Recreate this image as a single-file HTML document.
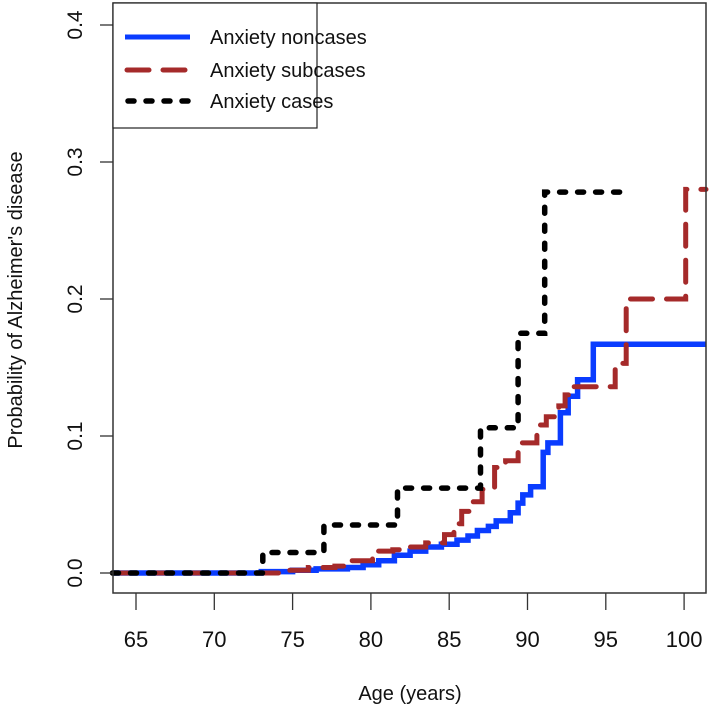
<!DOCTYPE html>
<html><head><meta charset="utf-8"><style>
html,body{margin:0;padding:0;background:#fff;}
svg{display:block;font-family:"Liberation Sans",Arial,sans-serif;}
</style></head><body>
<svg id="chart" width="709" height="715" viewBox="0 0 709 715">
<g id="plot"></g>
<rect x="113" y="3" width="593" height="590" fill="none" stroke="#333" stroke-width="1.5"/>
<g id="axes"></g>
<text x="410" y="700" font-size="20" text-anchor="middle" fill="#111">Age (years)</text>
<text transform="translate(22,300) rotate(-90)" font-size="20" text-anchor="middle" fill="#111">Probability of Alzheimer's disease</text>
<g>
<rect x="113" y="3" width="204" height="125" fill="#fff" stroke="#222" stroke-width="1.2"/>
<line x1="125" y1="37" x2="190" y2="37" stroke="#0a3cff" stroke-width="5"/>
<text x="210" y="44" font-size="20" fill="#111">Anxiety noncases</text>
<line x1="127" y1="70" x2="190" y2="70" stroke="#a52a2a" stroke-width="5" stroke-dasharray="22 14" stroke-linecap="round"/>
<text x="210" y="77" font-size="20" fill="#111">Anxiety subcases</text>
<line x1="128" y1="101" x2="190" y2="101" stroke="#000" stroke-width="5.5" stroke-dasharray="6 12" stroke-linecap="round"/>
<text x="210" y="108" font-size="20" fill="#111">Anxiety cases</text>
</g>
</svg>
<script>
const xTicks = [65,70,75,80,85,90,95,100];
const yTicks = [0,0.1,0.2,0.3,0.4];
const yTickLabels = ["0.0","0.1","0.2","0.3","0.4"];
const noncasesAge = [63.5,73,75,76.5,78.5,79.5,80.5,81.5,82.5,83.5,84.5,85.5,86.2,86.8,87.5,88,88.9,89.4,89.7,90.2,91.0,91.3,92.1,92.6,93.2,94.2];
const noncasesVal = [0,0.001,0.002,0.003,0.004,0.006,0.009,0.013,0.016,0.019,0.021,0.024,0.027,0.031,0.034,0.038,0.044,0.051,0.057,0.063,0.088,0.095,0.117,0.129,0.141,0.167];
const noncasesEnd = 101.4;
const subcasesAge = [63.5,74.8,76,77.7,78.5,80.1,81.4,82.5,83.5,84.7,85.3,85.8,86.4,87.1,87.9,88.6,89.4,90.6,91.2,92.0,92.4,92.7,95.6,96.3,100.1];
const subcasesVal = [0,0.002,0.004,0.005,0.009,0.016,0.017,0.019,0.022,0.028,0.036,0.045,0.052,0.061,0.077,0.082,0.095,0.108,0.114,0.122,0.13,0.136,0.153,0.2,0.28];
const subcasesEnd = 101.4;
const casesAge = [63.5,73.1,77.0,81.7,87.0,89.4,91.1];
const casesVal = [0,0.015,0.035,0.062,0.106,0.175,0.278];
const casesEnd = 95.9;

const NS="http://www.w3.org/2000/svg";
const xS = a => 136 + (a-65)*15.66;
const yS = v => 573 - v*1370;
function stepPath(ages, vals, end){
  let d = "M"+xS(ages[0]).toFixed(1)+","+yS(vals[0]).toFixed(1);
  for(let i=1;i<ages.length;i++){
    d += " H"+xS(ages[i]).toFixed(1)+" V"+yS(vals[i]).toFixed(1);
  }
  d += " H"+xS(end).toFixed(1);
  return d;
}
const plot=document.getElementById('plot');
function addPath(d,color,w,dash,name){
  const p=document.createElementNS(NS,'path');
  p.setAttribute('d',d);p.setAttribute('fill','none');p.setAttribute('stroke',color);
  p.setAttribute('stroke-width',w);
  if(dash){p.setAttribute('stroke-dasharray',dash);p.setAttribute('stroke-linecap','round');}
  
  
  plot.appendChild(p);
}
addPath(stepPath(noncasesAge,noncasesVal,noncasesEnd),'#0a3cff',5.5,null,'series-noncases');
addPath(stepPath(subcasesAge,subcasesVal,subcasesEnd),'#a52a2a',5,'22 14','series-subcases');
addPath(stepPath(casesAge,casesVal,casesEnd),'#000',5.5,'6 12','series-cases');

const axes=document.getElementById('axes');
xTicks.forEach(t=>{
  const l=document.createElementNS(NS,'line');
  l.setAttribute('x1',xS(t));l.setAttribute('x2',xS(t));l.setAttribute('y1',593);l.setAttribute('y2',610);
  l.setAttribute('stroke','#333');l.setAttribute('stroke-width','1.3');
  
  
  axes.appendChild(l);
  const tx=document.createElementNS(NS,'text');
  tx.setAttribute('x',xS(t));tx.setAttribute('y',647);tx.setAttribute('font-size','22');
  tx.setAttribute('text-anchor','middle');tx.setAttribute('fill','#111');
  tx.textContent=String(t);
  
  
  axes.appendChild(tx);
});
yTicks.forEach((t,i)=>{
  const l=document.createElementNS(NS,'line');
  l.setAttribute('x1',100);l.setAttribute('x2',113);l.setAttribute('y1',yS(t));l.setAttribute('y2',yS(t));
  l.setAttribute('stroke','#333');l.setAttribute('stroke-width','1.3');
  
  
  axes.appendChild(l);
  const tx=document.createElementNS(NS,'text');
  tx.setAttribute('transform','translate(82,'+yS(t)+') rotate(-90)');
  tx.setAttribute('font-size','21');tx.setAttribute('text-anchor','middle');tx.setAttribute('fill','#111');
  tx.textContent=yTickLabels[i];
  
  
  axes.appendChild(tx);
});
</script>
</body></html>
